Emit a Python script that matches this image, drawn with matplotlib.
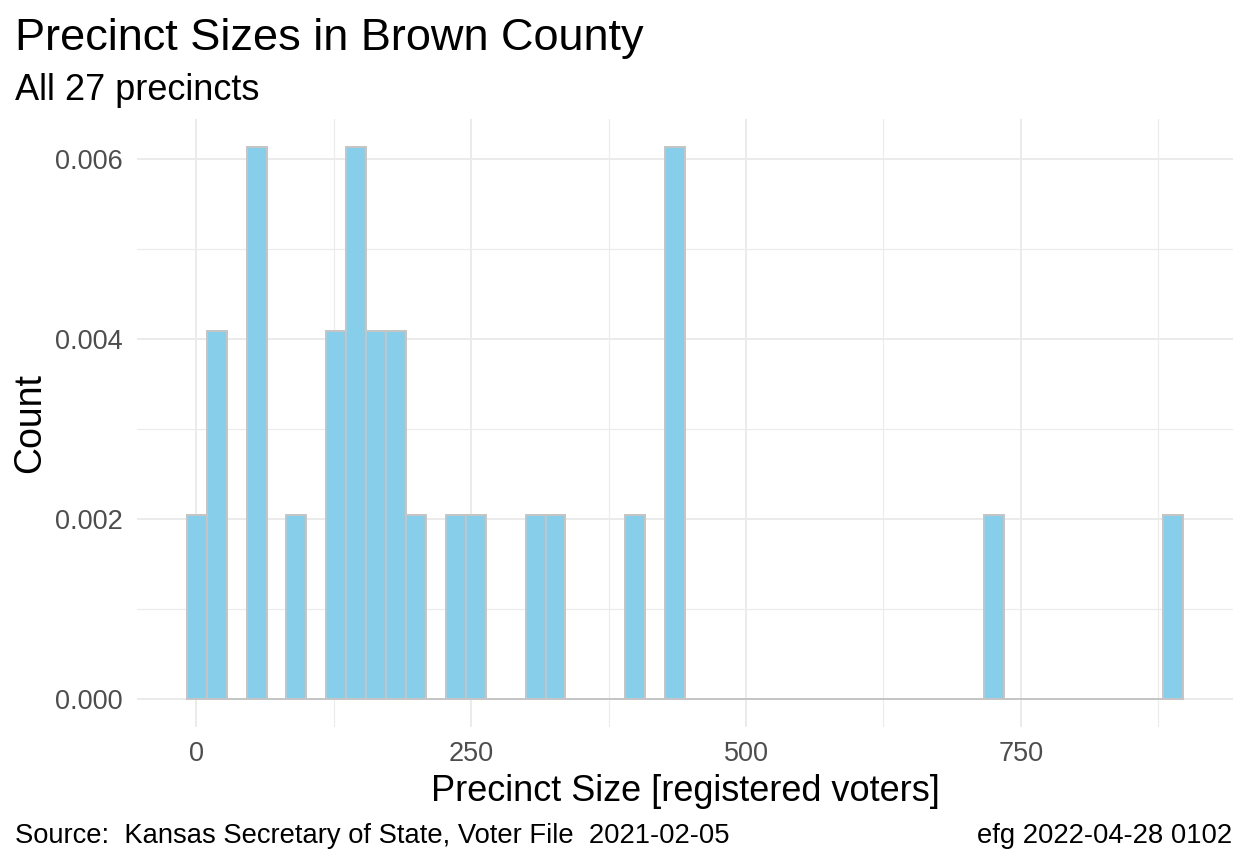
import numpy as np
import matplotlib
matplotlib.use("Agg")
import matplotlib.pyplot as plt
from matplotlib.ticker import MultipleLocator, FormatStrFormatter

plt.rcParams['font.family'] = ['Liberation Sans', 'DejaVu Sans']

# histogram bins (50 bins)
bin_start = -8.46
bin_width = 18.12
counts = [1, 2, 0, 3, 0, 1, 0, 2, 3, 2,
          2, 1, 0, 1, 1, 0, 0, 1, 1, 0,
          0, 0, 1, 0, 3, 0, 0, 0, 0, 0,
          0, 0, 0, 0, 0, 0, 0, 0, 0, 0,
          1, 0, 0, 0, 0, 0, 0, 0, 0, 1]
n_precincts = 27

x_ticks = [0, 250, 500, 750]
y_ticks = [0.000, 0.002, 0.004, 0.006]

counts = np.array(counts)
lefts = bin_start + bin_width * np.arange(len(counts))
density = counts / (n_precincts * bin_width)

W, H = 1248, 864
fig = plt.figure(figsize=(W / 100, H / 100), dpi=100)
ax = fig.add_axes([137 / W, (H - 727) / H, (1233 - 137) / W, (727 - 119) / H])

ax.bar(lefts, density, width=bin_width, align='edge', color='#87CEEB',
       edgecolor='#C4C4C4', linewidth=1.4, zorder=3)

# ggplot-like expansion
x0, x1 = lefts[0], lefts[-1] + bin_width
ex = 0.05 * (x1 - x0)
ax.set_xlim(x0 - ex, x1 + ex)
ymax = density.max()
ax.set_ylim(-0.05 * ymax, 1.05 * ymax)

ax.set_xticks(x_ticks)
ax.set_yticks(y_ticks)
ax.xaxis.set_minor_locator(MultipleLocator(125))
ax.yaxis.set_minor_locator(MultipleLocator(0.001))
ax.yaxis.set_major_formatter(FormatStrFormatter('%.3f'))
ax.grid(which='major', color='#EBEBEB', linewidth=1.4, zorder=0)
ax.grid(which='minor', color='#EBEBEB', linewidth=0.8, zorder=0)
ax.set_axisbelow(True)
for s in ax.spines.values():
    s.set_visible(False)
ax.tick_params(which='both', length=0)
ax.tick_params(axis='y', labelsize=19.5, labelcolor='#4D4D4D', pad=10)
ax.tick_params(axis='x', labelsize=19.5, labelcolor='#4D4D4D', pad=10)

ax.set_xlabel('Precinct Size [registered voters]', fontsize=26, labelpad=5)
ax.set_ylabel('Count', fontsize=27, labelpad=5)

fig.text(15 / W, 1 - 50 / H, 'Precinct Sizes in Brown County', fontsize=32.5,
         ha='left', va='baseline')
fig.text(15 / W, 1 - 100 / H, 'All 27 precincts', fontsize=26,
         ha='left', va='baseline')
fig.text(15 / W, 1 - 843 / H, 'Source:  Kansas Secretary of State, Voter File  2021-02-05',
         fontsize=19.7, ha='left', va='baseline')
fig.text(1232 / W, 1 - 843 / H, 'efg 2022-04-28 0102', fontsize=19.7,
         ha='right', va='baseline')

fig.savefig('out.png', dpi=100, facecolor='white')
